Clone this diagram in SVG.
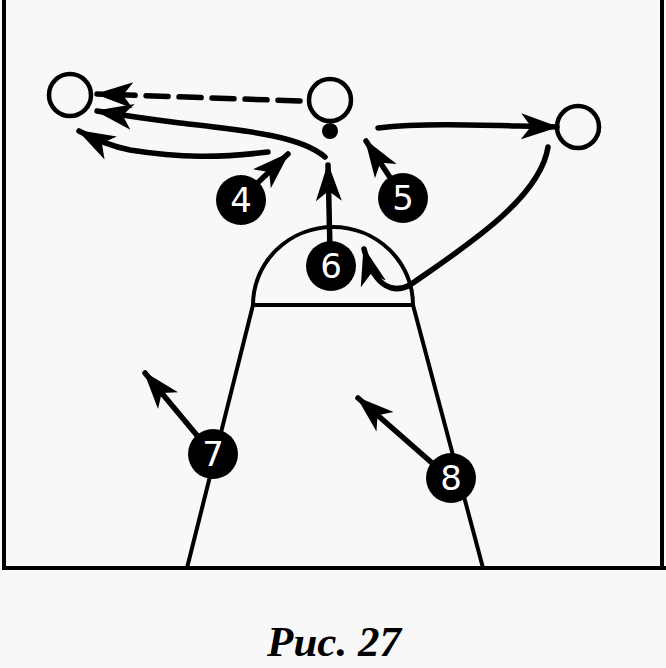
<svg xmlns="http://www.w3.org/2000/svg" width="666" height="668" viewBox="0 0 666 668">
<style>
.line{fill:none;stroke:#000;stroke-width:4;stroke-linecap:round}
.arr{fill:none;stroke:#000;stroke-width:5.5;stroke-linecap:round;marker-end:url(#ah)}
.off{fill:none;stroke:#000;stroke-width:4.5}
.def{fill:#000}
.num{fill:#fff;font-family:"DejaVu Sans","Liberation Sans",sans-serif;font-size:34px;text-anchor:middle}
.cap{font-family:"Liberation Serif",serif;font-style:italic;font-weight:bold;font-size:43px;text-anchor:middle;fill:#000}
</style>
<defs>
<marker id="ah" markerUnits="userSpaceOnUse" markerWidth="44" markerHeight="32" viewBox="0 -16 44 32" refX="36" refY="0" orient="auto">
<path d="M0,-13 L38,0 L0,13 L10,0 Z" fill="#000"/>
</marker>
</defs>
<rect width="666" height="668" fill="#f8f8f8"/>
<g id="court">
<path class="line" d="M4,0 V568 H666 M662,0 V568"/>
<path class="line" d="M253,305 A80,78 0 0 1 413,305 Z"/>
<path class="line" d="M253,305 L187,568 M413,305 L483,568"/>
</g>
<g id="connectors">
<path class="arr" d="M300,101 L97,94" stroke-dasharray="22 11"/>
<path class="arr" d="M325,157 C300,135 240,130 180,123 C140,118 115,114 97,111"/>
<path class="arr" d="M268,152 C220,158 180,158 130,150 C110,146 92,138 79,131"/>
<path class="arr" d="M250,190 L288,154"/>
<path class="arr" d="M330,250 L328,165"/>
<path class="arr" d="M395,185 L366,141"/>
<path class="arr" d="M378,128 C430,122 500,126 557,127"/>
<path class="arr" d="M548,147 C540,200 460,250 410,285 C395,293 375,290 364,249"/>
<path class="arr" d="M205,445 L145,373"/>
<path class="arr" d="M440,470 L358,398"/>
</g>
<g id="o1"><circle class="off" cx="70" cy="95" r="21" fill="none"/></g>
<g id="o2"><circle class="off" cx="330" cy="100" r="21" fill="none"/><circle class="def" cx="330" cy="131" r="8"/></g>
<g id="o3"><circle class="off" cx="578" cy="127" r="21" fill="none"/></g>
<g id="p4"><circle class="def" cx="241" cy="200" r="25"/><text class="num" x="241" y="212">4</text></g>
<g id="p5"><circle class="def" cx="403" cy="198" r="25"/><text class="num" x="403" y="210">5</text></g>
<g id="p6"><circle class="def" cx="331" cy="266" r="25"/><text class="num" x="331" y="278">6</text></g>
<g id="p7"><circle class="def" cx="213" cy="454" r="25"/><text class="num" x="213" y="466">7</text></g>
<g id="p8"><circle class="def" cx="451" cy="478" r="25"/><text class="num" x="451" y="490">8</text></g>
<text class="cap" x="334" y="656">Рис. 27</text>
</svg>
